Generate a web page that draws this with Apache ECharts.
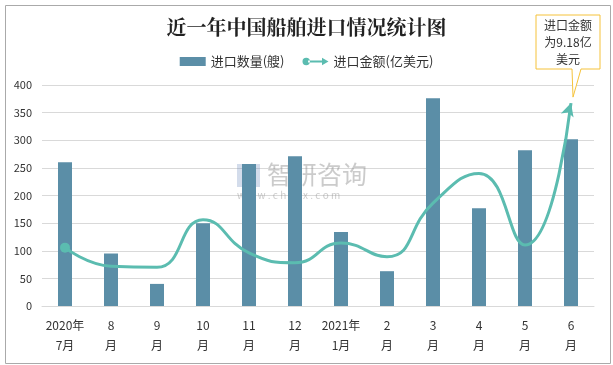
<!DOCTYPE html>
<html><head><meta charset="utf-8">
<script src="https://cdn.jsdelivr.net/npm/echarts@6/dist/echarts.min.js"></script>
<style>html,body{margin:0;padding:0;background:#fff}#c{width:613px;height:365px}</style>
</head><body><div id="c"></div>
<script>
const categories = ['2020年\n7月','8\n月','9\n月','10\n月','11\n月','12\n月','2021年\n1月','2\n月','3\n月','4\n月','5\n月','6\n月'];
const shipCount = [260, 95, 40, 150, 257, 271, 134, 63, 376, 177, 282, 302];
const importValue = [2.64, 1.8, 1.75, 3.9, 2.4, 1.96, 2.85, 2.23, 4.66, 6.0, 2.76, 9.18];
const yTicks = {min: 0, max: 400, interval: 50};
const calloutText = '进口金额\n为9.18亿\n美元';

const font = '"Microsoft YaHei","Noto Sans CJK SC",sans-serif';
const chart = echarts.init(document.getElementById('c'));
const lineData = importValue.map((v, i) => {
  if (i === 0) return {value: v, symbol: 'circle', symbolSize: 10};
  if (i === importValue.length - 1) return {value: v, symbol: 'arrow', symbolSize: [10, 13], symbolRotate: -17};
  return {value: v, symbol: 'none'};
});
chart.setOption({
  animation: false,
  textStyle: {fontFamily: font},
  title: {
    text: '近一年中国船舶进口情况统计图', left: 'center', top: 12,
    textStyle: {fontSize: 20, fontWeight: 'bold', color: '#222', fontFamily: '"Noto Serif CJK SC","Noto Sans CJK SC",serif'}
  },
  legend: {
    top: 50, left: 'center', itemGap: 18, itemWidth: 26, itemHeight: 9,
    textStyle: {fontSize: 13, color: '#333'},
    data: [
      {name: '进口数量(艘)', icon: 'rect'},
      {name: '进口金额(亿美元)', icon: 'path://M0,5a4,4 0 1,0 8,0a4,4 0 1,0 -8,0Z M6,4H22V6H6Z M21,1L28,5L21,9Z'}
    ]
  },
  grid: {left: 42, right: 19, top: 85, bottom: 59},
  xAxis: {
    type: 'category', data: categories,
    axisLine: {lineStyle: {color: '#d9d9d9'}}, axisTick: {show: false},
    axisLabel: {fontSize: 12, color: '#333', lineHeight: 20, margin: 9, interval: 0}
  },
  yAxis: [
    {type: 'value', min: yTicks.min, max: yTicks.max, interval: yTicks.interval,
     axisLine: {show: false}, axisTick: {show: false},
     axisLabel: {fontSize: 11, color: '#333', margin: 10},
     splitLine: {lineStyle: {color: '#d9d9d9'}}},
    {type: 'value', min: 0, max: 10, show: false, splitLine: {show: false}}
  ],
  series: [
    {name: '进口数量(艘)', type: 'bar', data: shipCount, barWidth: 14,
     itemStyle: {color: '#5b8ea7'}},
    {name: '进口金额(亿美元)', type: 'line', yAxisIndex: 1, data: lineData,
     symbol: 'none', showSymbol: true, smooth: 0.5,
     lineStyle: {color: '#5bbcb0', width: 3}, itemStyle: {color: '#5bbcb0'}}
  ]
});

const tip = chart.convertToPixel({xAxisIndex: 0, yAxisIndex: 1}, [importValue.length - 1, importValue[importValue.length - 1]]);
const tx = tip[0] + 2, ty = tip[1] - 6;
chart.setOption({
  graphic: [
    {type: 'rect', left: 3, top: 3, shape: {width: 605, height: 358}, style: {fill: 'none', stroke: '#aaa', lineWidth: 1}, silent: true},
    {type: 'rect', shape: {x: 237, y: 164, width: 23, height: 23}, style: {fill: 'rgba(110,140,190,0.3)'}, silent: true},
    {type: 'text', x: 267, y: 162, style: {text: '智研咨询', fontSize: 25, fill: 'rgba(140,140,140,0.45)', fontFamily: font}, silent: true},
    {type: 'text', x: 237, y: 190, style: {text: 'w w w . c h y x x . c o m', fontSize: 10, fill: 'rgba(140,140,140,0.45)', fontFamily: font}, silent: true},
    {type: 'polygon', shape: {points: [[536, 15], [600, 15], [600, 69], [581, 69], [tx, ty], [572, 69], [536, 69]]},
     style: {fill: '#fff', stroke: '#f5c23a', lineWidth: 1}, z: 100},
    {type: 'text', x: 568, y: 42, z: 101,
     style: {text: calloutText, fontSize: 12, fill: '#333', align: 'center', verticalAlign: 'middle', lineHeight: 17, fontFamily: font}}
  ]
});
</script></body></html>
